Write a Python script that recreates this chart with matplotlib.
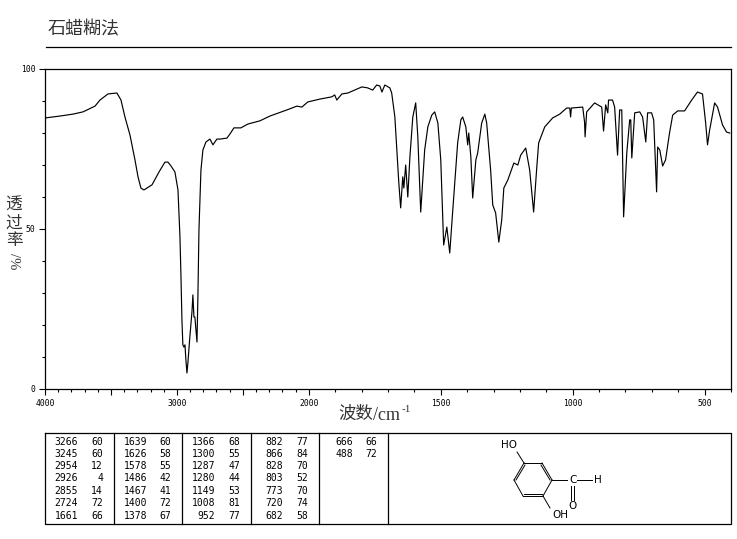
## IR spectrum, paraffin mull

import numpy as np
import matplotlib
matplotlib.use('Agg')
import matplotlib.pyplot as plt

plt.rcParams['font.family'] = ['Noto Sans CJK SC', 'DejaVu Sans']

# spectrum
wavenumber = [4000, 3886, 3788, 3712, 3621, 3583, 3523, 3455, 3424, 3394, 3356, 3318, 3295, 3273, 3250, 3189, 3136,
              3091, 3068, 3045, 3015, 2992, 2977, 2970, 2962, 2955, 2947, 2939, 2932, 2924, 2917, 2902,
              2886, 2879, 2871, 2864, 2848, 2841, 2833, 2818, 2803, 2780, 2750, 2727, 2697, 2674, 2621, 2598,
              2568, 2515, 2462, 2371, 2295, 2167, 2091, 2053, 2008, 1958, 1913, 1902, 1894, 1875, 1852, 1799,
              1777, 1758, 1743, 1731, 1723,
              1712, 1693, 1686, 1674, 1667, 1659, 1652, 1648, 1644, 1640, 1633, 1625, 1617, 1606, 1595,
              1587, 1576, 1561, 1549, 1534, 1523, 1511, 1500, 1489, 1477, 1466, 1455, 1436, 1424, 1417,
              1405, 1398, 1394, 1386, 1379, 1367, 1360, 1345, 1333, 1326, 1311, 1303, 1292, 1280, 1269,
              1261, 1246, 1223, 1208, 1197, 1178, 1163, 1148, 1136, 1129, 1106, 1076, 1049, 1023, 1011,
              1008, 1005, 962, 955, 953, 947, 917, 890, 883, 875, 867, 864, 849, 841, 830,
              822, 814, 807, 795, 784, 780, 776, 765, 746, 735, 723, 716, 701, 693, 682,
              678, 670, 659, 648, 633, 621, 602, 576, 549, 527, 508, 496, 489, 481, 462,
              451, 432, 417, 405]
transmittance = [84.7, 85.3, 85.9, 86.6, 88.4, 90.3, 92.2, 92.5, 90.3, 85.0, 79.4, 71.6, 66.3, 62.8, 62.2, 63.8, 67.8,
                 70.9, 70.9, 69.7, 67.8, 62.2, 47.5, 36.3, 21.6, 13.8, 13.1, 13.8, 9.1, 5.0, 8.1, 16.3,
                 24.1, 29.4, 22.5, 22.5, 14.7, 28.8, 49.7, 68.4, 74.7, 77.2, 78.1, 76.3, 78.1, 78.1, 78.4, 79.7,
                 81.6, 81.6, 82.8, 83.8, 85.3, 87.2, 88.4, 88.1, 89.7, 90.6, 91.3, 91.9, 90.3, 92.2, 92.5, 94.4,
                 94.1, 93.4, 95.0, 94.7, 92.8,
                 95.0, 94.1, 92.5, 85.0, 75.6, 64.4, 56.6, 61.3, 66.3, 62.8, 70.0, 60.0, 72.5, 85.0, 89.4,
                 78.8, 55.3, 74.7, 81.9, 85.6, 86.6, 83.1, 71.6, 45.0, 50.6, 42.5, 55.3, 76.9, 84.1, 85.0,
                 81.9, 76.3, 80.0, 72.5, 59.7, 71.6, 73.8, 83.1, 85.9, 83.1, 68.4, 57.5, 55.0, 45.9, 52.8,
                 62.8, 65.3, 70.6, 70.0, 73.1, 75.3, 68.4, 55.3, 69.4, 76.9, 81.9, 84.7, 85.9, 87.8, 87.8,
                 85.0, 87.8, 88.1, 83.4, 78.8, 86.6, 89.4, 88.1, 80.6, 88.8, 86.3, 90.3, 90.3, 88.1, 73.1,
                 87.2, 87.2, 53.8, 73.8, 84.1, 84.1, 72.2, 86.3, 86.6, 85.0, 77.2, 86.3, 86.3, 84.1, 61.6,
                 75.6, 74.7, 69.7, 71.6, 80.0, 85.6, 86.9, 86.9, 90.3, 92.8, 92.2, 83.1, 76.3, 80.9, 89.4,
                 88.1, 82.5, 80.3, 80.0]

x_major = [4000, 3500, 3000, 2500, 2000, 1500, 1000, 500]
x_labels = ['4000', '', '3000', '', '2000', '1500', '1000', '500']
x_minor = [v for v in range(4000, 399, -100) if v not in x_major]
y_major = [0, 50, 100]
y_labels = ['0', '50', '100']
y_minor = [10, 20, 30, 40, 60, 70, 80, 90]

title = '石蜡糊法'

# peak table, one list per column
peak_cols = [
    [('3266', '60'), ('3245', '60'), ('2954', '12'), ('2926', '4'), ('2855', '14'), ('2724', '72'), ('1661', '66')],
    [('1639', '60'), ('1626', '58'), ('1578', '55'), ('1486', '42'), ('1467', '41'), ('1400', '72'), ('1378', '67')],
    [('1366', '68'), ('1300', '55'), ('1287', '47'), ('1280', '44'), ('1149', '53'), ('1008', '81'), ('952', '77')],
    [('882', '77'), ('866', '84'), ('828', '70'), ('803', '52'), ('773', '70'), ('720', '74'), ('682', '58')],
    [('666', '66'), ('488', '72')],
]


# the axis is stretched by 2 below 2000
def forward(x):
    x = np.asarray(x, dtype=float)
    return np.where(x <= 2000, 2 * x, 4000 + (x - 2000))


def inverse(v):
    v = np.asarray(v, dtype=float)
    return np.where(v <= 4000, v / 2, 2000 + (v - 4000))


W, H = 737, 539
fig = plt.figure(figsize=(W / 100, H / 100), dpi=100)
ax = fig.add_axes([45 / W, 1 - 389 / H, (731 - 45) / W, 320 / H])
ax.plot(wavenumber, transmittance, color='black', lw=0.85)
ax.set_xscale('function', functions=(forward, inverse))
ax.set_xlim(4000, 400)
ax.set_ylim(0, 100)
ax.set_xticks(x_major)
ax.set_xticklabels(x_labels, family='DejaVu Sans Mono')
ax.set_xticks(x_minor, minor=True)
ax.set_xticklabels([''] * len(x_minor), minor=True)
ax.set_yticks(y_major)
ax.set_yticklabels(y_labels, family='DejaVu Sans Mono')
ax.set_yticks(y_minor, minor=True)
ax.set_yticklabels([''] * len(y_minor), minor=True)
ax.tick_params(which='major', length=4, width=0.8, labelsize=5.8, pad=3)
ax.tick_params(which='minor', length=2, width=0.8)
for s in ax.spines.values():
    s.set_linewidth(0.9)

# overlay in picture pixels for title, table and structure
ov = fig.add_axes([0, 0, 1, 1], facecolor='none')
ov.set_xlim(0, W)
ov.set_ylim(H, 0)
ov.axis('off')

ov.text(48, 29, title, fontsize=13, color='#333333', va='center', ha='left')
ov.plot([46, 731], [47, 47], color='black', lw=0.9)

# x label in three pieces
ov.text(338, 414, '波数', fontsize=12.5, color='#333333', va='center', ha='left')
ov.text(373, 415, '/cm', fontsize=13, color='#333333', va='center', ha='left', family='Liberation Serif')
ov.text(402, 409, '-1', fontsize=8, color='#333333', va='center', ha='left', family='Liberation Serif')

# y label: stacked characters, then /% turned
for ch, yy in zip('透过率', [205, 223, 241]):
    ov.text(14, yy, ch, fontsize=12, color='#333333', ha='center', va='center')
ov.text(14, 261, '/%', fontsize=10.5, color='#333333', ha='center', va='center', rotation=270,
        family='Liberation Serif')

# table
ov.plot([45, 731, 731, 45, 45], [433, 433, 524, 524, 433], color='black', lw=0.9)
for xd in [114, 182, 251, 319, 388]:
    ov.plot([xd, xd], [433, 524], color='black', lw=0.9)
num_right = [78, 147, 215, 283, 353]
val_right = [103, 171, 240, 308, 377]
row_y = [442, 454, 466, 478, 491, 503, 516]
for col, xn, xv in zip(peak_cols, num_right, val_right):
    for (num, val), yy in zip(col, row_y):
        ov.text(xn, yy, num, fontsize=7, ha='right', va='center', family='DejaVu Sans Mono')
        ov.text(xv, yy, val, fontsize=7, ha='right', va='center', family='DejaVu Sans Mono')

# structure
bonds = [((517, 452), (524, 463)), ((524, 463), (542, 463)), ((542, 463), (552, 480)),
         ((552, 480), (543, 496)), ((543, 496), (523, 496)), ((523, 496), (514, 480)),
         ((514, 480), (524, 463)), ((525, 465), (516, 480)), ((541, 465), (550, 480)),
         ((542, 494), (524, 494)), ((552, 480), (567, 480)), ((577, 480), (592, 480)),
         ((571, 486), (571, 500)), ((574, 486), (574, 500)), ((543, 496), (550, 508))]
for p, q in bonds:
    ov.plot([p[0], q[0]], [p[1], q[1]], color='black', lw=0.7)
atoms = [(509, 445, 'HO'), (573, 480, 'C'), (598, 480, 'H'), (573, 506, 'O'), (560, 515, 'OH')]
for xa, ya, lab in atoms:
    ov.text(xa, ya, lab, fontsize=7.5, ha='center', va='center', family='DejaVu Sans')

fig.savefig('out.png', dpi=100)
